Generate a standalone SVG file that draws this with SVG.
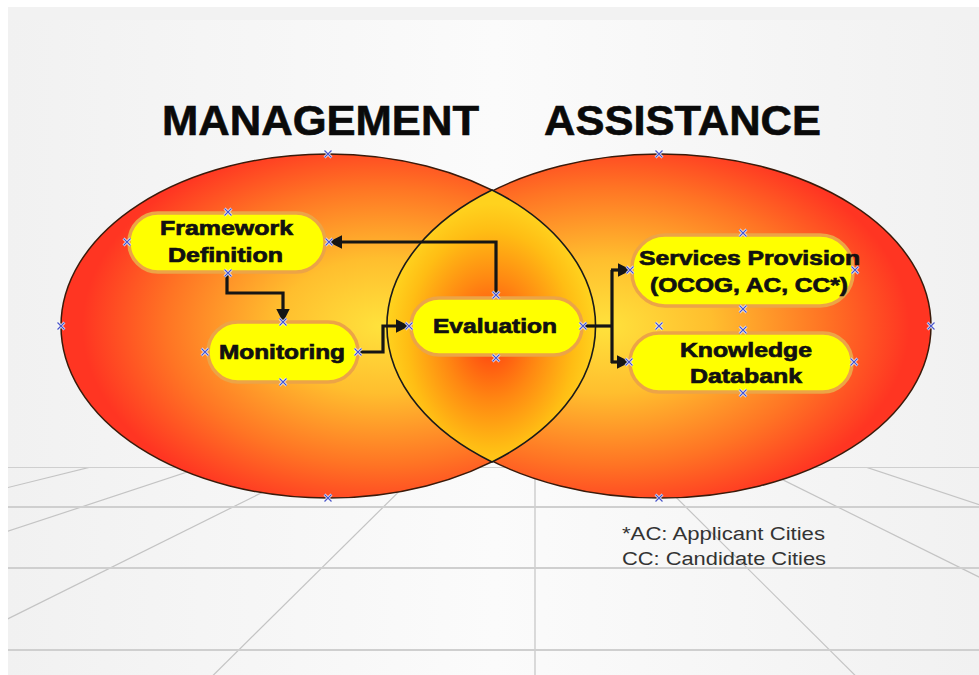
<svg xmlns="http://www.w3.org/2000/svg" width="979" height="675" viewBox="0 0 979 675">
<style>
.title{font-family:"Liberation Sans",Arial,sans-serif;font-weight:bold;font-size:42px;fill:#0a0a0a;stroke:#0a0a0a;stroke-width:0.6}
.nt{font-family:"Liberation Sans",Arial,sans-serif;font-weight:bold;font-size:20px;fill:#111;stroke:#111;stroke-width:0.7}
.fn{font-family:"Liberation Sans",Arial,sans-serif;font-size:18px;fill:#333}
.pill{fill:#ffff00;stroke:#eca447;stroke-width:3.5}
.conn{fill:none;stroke:#151515;stroke-width:3.2;stroke-linejoin:miter}
.grid{stroke:#c4c4c4;stroke-width:1.2;fill:none}
.hgrid{stroke:#cfcfcf;stroke-width:2.2}
</style>
<defs>
<linearGradient id="bg" x1="0" y1="0" x2="1" y2="0">
<stop offset="0" stop-color="#f1f1f1"/>
<stop offset="0.5" stop-color="#fbfbfb"/>
<stop offset="1" stop-color="#f1f1f1"/>
</linearGradient>
<radialGradient id="gL" cx="0.6" cy="0.5" r="0.56">
<stop offset="0" stop-color="#ffe23c"/>
<stop offset="0.35" stop-color="#ffbe2e"/>
<stop offset="0.72" stop-color="#ff7424"/>
<stop offset="1" stop-color="#ff3522"/>
</radialGradient>
<radialGradient id="gR" cx="0.4" cy="0.5" r="0.56">
<stop offset="0" stop-color="#ffe23c"/>
<stop offset="0.35" stop-color="#ffbe2e"/>
<stop offset="0.72" stop-color="#ff7424"/>
<stop offset="1" stop-color="#ff3522"/>
</radialGradient>
<radialGradient id="gM" cx="0.5" cy="0.55" r="0.5">
<stop offset="0" stop-color="#ff3c10"/>
<stop offset="0.45" stop-color="#ff8812"/>
<stop offset="0.8" stop-color="#ffbd14"/>
<stop offset="1" stop-color="#ffd21e"/>
</radialGradient>
<clipPath id="floorClip"><rect x="8" y="467" width="971" height="208"/></clipPath>
<marker id="ah" viewBox="0 0 10 10" refX="9" refY="5" markerWidth="4.2" markerHeight="4.2" orient="auto" markerUnits="strokeWidth">
<path d="M0,0 L10,5 L0,10 Z" fill="#151515"/>
</marker>
<g id="cp">
<path d="M-3.5,-3.5 L3.5,3.5 M-3.5,3.5 L3.5,-3.5" stroke="#ffffff" stroke-width="2.6"/>
<path d="M-3.5,-3.5 L3.5,3.5 M-3.5,3.5 L3.5,-3.5" stroke="#4a56c8" stroke-width="1.3"/>
</g>
</defs>

<!-- background -->
<rect x="0" y="0" width="979" height="675" fill="#ffffff"/>
<rect x="8" y="7" width="971" height="668" fill="url(#bg)"/>
<rect x="8" y="7" width="971" height="13" fill="#f2f2f2"/>

<!-- floor grid -->
<g id="floor" clip-path="url(#floorClip)">
<rect x="8" y="467" width="971" height="208" fill="url(#bg)"/>
<line class="grid" x1="535" y1="357" x2="-200" y2="539"/>
<line class="grid" x1="535" y1="357" x2="-200" y2="600"/>
<line class="grid" x1="535" y1="357" x2="-200" y2="722"/>
<line class="grid" x1="535" y1="357" x2="170" y2="718"/>
<line class="grid" x1="535" y1="357" x2="900" y2="720"/>
<line class="grid" x1="535" y1="357" x2="1100" y2="637"/>
<line class="grid" x1="535" y1="357" x2="1100" y2="545"/>
<line class="grid" x1="535" y1="357" x2="535" y2="675"/>
<line class="hgrid" x1="8" y1="467" x2="979" y2="467"/>
<line class="hgrid" x1="8" y1="507" x2="979" y2="507"/>
<line class="hgrid" x1="8" y1="568" x2="979" y2="568"/>
<line class="hgrid" x1="8" y1="650" x2="979" y2="650"/>
</g>

<!-- titles -->
<text class="title" x="162" y="135" textLength="317" lengthAdjust="spacingAndGlyphs">MANAGEMENT</text>
<text class="title" x="544" y="135" textLength="277" lengthAdjust="spacingAndGlyphs">ASSISTANCE</text>

<!-- circles -->
<g id="management">
<ellipse cx="328" cy="326" rx="267" ry="172" fill="url(#gL)" stroke="#3a1a0a" stroke-width="1.5"/>
</g>
<g id="assistance">
<ellipse cx="660" cy="326" rx="271" ry="172" fill="url(#gR)" stroke="#3a1a0a" stroke-width="1.5"/>
</g>
<g id="overlap">
<path d="M492,190 A267,172 0 0 1 492,462 A271,172 0 0 1 492,190 Z" fill="url(#gM)" stroke="#1a1a1a" stroke-width="1.6"/>
</g>

<!-- connectors -->
<g id="connectors">
<path class="conn" d="M496,296 V242 H330" marker-end="url(#ah)"/>
<path class="conn" d="M227,274 V293 H283 V321" marker-end="url(#ah)"/>
<path class="conn" d="M359,352 H383 V326 H408" marker-end="url(#ah)"/>
<path class="conn" d="M584,326 H612"/>
<path class="conn" d="M612,270 V363"/>
<path class="conn" d="M611,270 H630" marker-end="url(#ah)"/>
<path class="conn" d="M611,362 H629" marker-end="url(#ah)"/>
</g>

<!-- nodes -->
<g id="framework">
<rect class="pill" x="129" y="213" width="196" height="59" rx="29"/>
<text class="nt" x="160" y="235" textLength="133" lengthAdjust="spacingAndGlyphs">Framework</text>
<text class="nt" x="168" y="262" textLength="115" lengthAdjust="spacingAndGlyphs">Definition</text>
</g>
<g id="monitoring">
<rect class="pill" x="208" y="322" width="150" height="60" rx="30"/>
<text class="nt" x="219" y="359" textLength="126" lengthAdjust="spacingAndGlyphs">Monitoring</text>
</g>
<g id="evaluation">
<rect class="pill" x="411" y="298" width="171" height="57" rx="28"/>
<text class="nt" x="433" y="333" textLength="124" lengthAdjust="spacingAndGlyphs">Evaluation</text>
</g>
<g id="services">
<rect class="pill" x="632" y="235" width="221" height="71" rx="33"/>
<text class="nt" x="639" y="265" textLength="221" lengthAdjust="spacingAndGlyphs">Services Provision</text>
<text class="nt" x="650" y="292" textLength="198" lengthAdjust="spacingAndGlyphs">(OCOG, AC, CC*)</text>
</g>
<g id="knowledge">
<rect class="pill" x="630" y="333" width="222" height="59" rx="29"/>
<text class="nt" x="680" y="357" textLength="132" lengthAdjust="spacingAndGlyphs">Knowledge</text>
<text class="nt" x="690" y="383" textLength="112" lengthAdjust="spacingAndGlyphs">Databank</text>
</g>

<!-- connection point markers -->
<g id="points">
<use href="#cp" x="328" y="154"/><use href="#cp" x="328" y="498"/><use href="#cp" x="61" y="326"/>
<use href="#cp" x="659" y="154"/><use href="#cp" x="659" y="498"/><use href="#cp" x="931" y="326"/><use href="#cp" x="659" y="326"/>
<use href="#cp" x="228" y="212"/><use href="#cp" x="127" y="242"/><use href="#cp" x="329" y="242"/><use href="#cp" x="228" y="273"/>
<use href="#cp" x="283" y="322"/><use href="#cp" x="205" y="352"/><use href="#cp" x="358" y="352"/><use href="#cp" x="283" y="382"/>
<use href="#cp" x="496" y="295"/><use href="#cp" x="496" y="358"/><use href="#cp" x="409" y="326"/><use href="#cp" x="583" y="326"/>
<use href="#cp" x="743" y="233"/><use href="#cp" x="743" y="309"/><use href="#cp" x="630" y="270"/><use href="#cp" x="855" y="270"/>
<use href="#cp" x="743" y="330"/><use href="#cp" x="743" y="393"/><use href="#cp" x="629" y="362"/><use href="#cp" x="854" y="362"/>
</g>

<!-- footnote -->
<text class="fn" x="622" y="540" textLength="203" lengthAdjust="spacingAndGlyphs">*AC: Applicant Cities</text>
<text class="fn" x="622" y="565" textLength="204" lengthAdjust="spacingAndGlyphs">CC: Candidate Cities</text>
</svg>
